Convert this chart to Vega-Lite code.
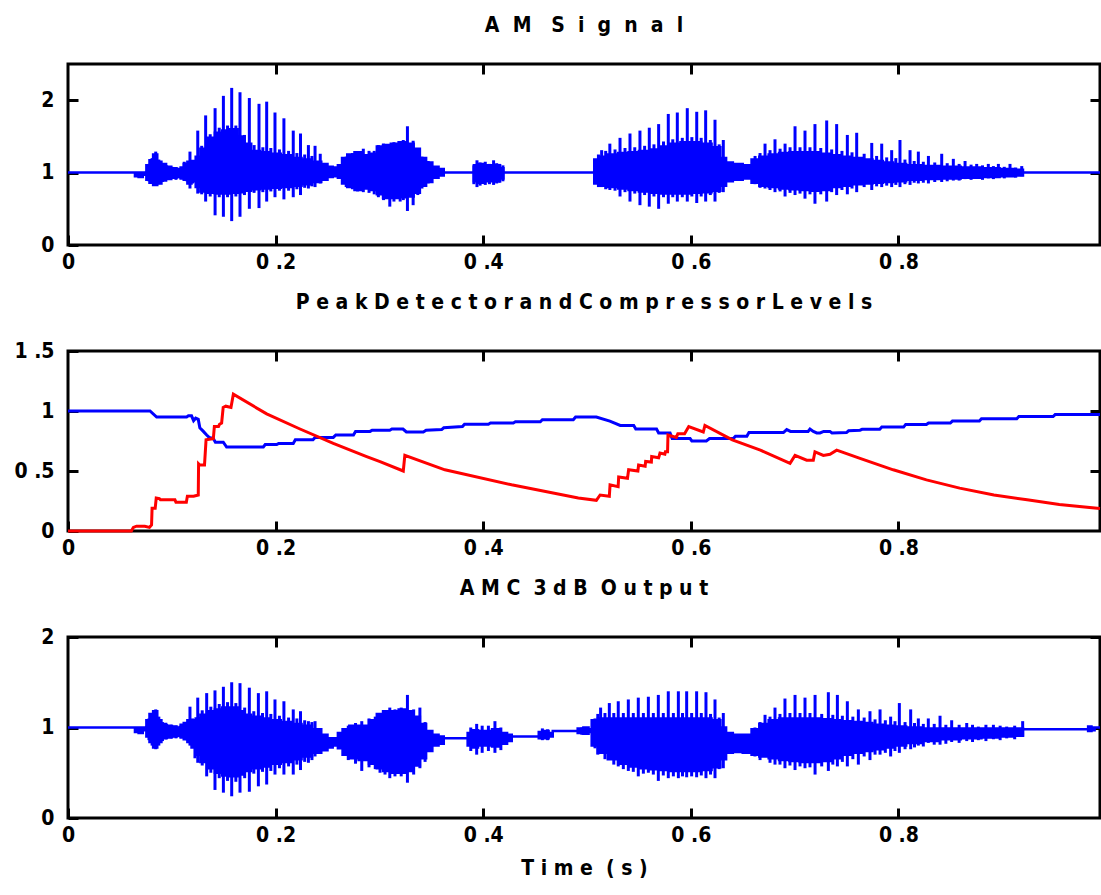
{
 "$schema": "https://vega.github.io/schema/vega-lite/v6.json",
 "background": "white",
 "padding": {"left": 12, "top": 13, "right": 0, "bottom": 5},
 "spacing": 106,
 "bounds": "flush",
 "datasets": {
  "c1": [
   {"t":0,"lo":1,"hi":1},{"t":0.063,"lo":1,"hi":1},{"t":0.066,"lo":0.95,"hi":1},{"t":0.07,"lo":0.94,"hi":1},{"t":0.074,"lo":0.97,"hi":1},
   {"t":0.077,"lo":0.9,"hi":1.1},{"t":0.08,"lo":0.86,"hi":1.17},{"t":0.084,"lo":0.83,"hi":1.25},{"t":0.088,"lo":0.85,"hi":1.15},{"t":0.092,"lo":0.89,"hi":1.12},
   {"t":0.097,"lo":0.91,"hi":1.08},{"t":0.102,"lo":0.93,"hi":1.06},{"t":0.107,"lo":0.94,"hi":1.05},{"t":0.11,"lo":0.92,"hi":1.07},{"t":0.113,"lo":0.9,"hi":1.12},
   {"t":0.117,"lo":0.85,"hi":1.15},{"t":0.121,"lo":0.88,"hi":1.16},{"t":0.125,"lo":0.8,"hi":1.22},{"t":0.13,"lo":0.74,"hi":1.33},{"t":0.138,"lo":0.72,"hi":1.48},
   {"t":0.145,"lo":0.71,"hi":1.55},{"t":0.152,"lo":0.71,"hi":1.58},{"t":0.16,"lo":0.72,"hi":1.6},{"t":0.167,"lo":0.73,"hi":1.5},{"t":0.173,"lo":0.75,"hi":1.4},
   {"t":0.18,"lo":0.77,"hi":1.3},{"t":0.19,"lo":0.78,"hi":1.28},{"t":0.2,"lo":0.79,"hi":1.26},{"t":0.21,"lo":0.8,"hi":1.24},{"t":0.22,"lo":0.82,"hi":1.2},
   {"t":0.23,"lo":0.84,"hi":1.18},{"t":0.24,"lo":0.87,"hi":1.15},{"t":0.248,"lo":0.9,"hi":1.12},{"t":0.252,"lo":0.94,"hi":1.08},{"t":0.258,"lo":0.95,"hi":1.07},
   {"t":0.262,"lo":0.93,"hi":1.1},{"t":0.266,"lo":0.85,"hi":1.2},{"t":0.272,"lo":0.8,"hi":1.25},{"t":0.28,"lo":0.76,"hi":1.28},{"t":0.287,"lo":0.78,"hi":1.24},
   {"t":0.295,"lo":0.76,"hi":1.26},{"t":0.3,"lo":0.7,"hi":1.36},{"t":0.307,"lo":0.65,"hi":1.38},{"t":0.315,"lo":0.65,"hi":1.4},{"t":0.322,"lo":0.66,"hi":1.42},
   {"t":0.33,"lo":0.67,"hi":1.4},{"t":0.336,"lo":0.72,"hi":1.33},{"t":0.342,"lo":0.82,"hi":1.2},{"t":0.348,"lo":0.87,"hi":1.14},{"t":0.354,"lo":0.93,"hi":1.08},
   {"t":0.36,"lo":0.96,"hi":1.05},{"t":0.364,"lo":1,"hi":1},{"t":0.39,"lo":1,"hi":1},{"t":0.392,"lo":0.88,"hi":1.1},{"t":0.398,"lo":0.86,"hi":1.12},
   {"t":0.405,"lo":0.88,"hi":1.1},{"t":0.412,"lo":0.88,"hi":1.1},{"t":0.418,"lo":0.92,"hi":1.06},{"t":0.421,"lo":1,"hi":1},{"t":0.506,"lo":1,"hi":1},
   {"t":0.508,"lo":0.85,"hi":1.18},{"t":0.515,"lo":0.82,"hi":1.22},{"t":0.525,"lo":0.8,"hi":1.25},{"t":0.535,"lo":0.78,"hi":1.27},{"t":0.545,"lo":0.76,"hi":1.28},
   {"t":0.555,"lo":0.74,"hi":1.3},{"t":0.565,"lo":0.72,"hi":1.32},{"t":0.575,"lo":0.71,"hi":1.36},{"t":0.585,"lo":0.71,"hi":1.4},{"t":0.595,"lo":0.71,"hi":1.42},
   {"t":0.605,"lo":0.72,"hi":1.42},{"t":0.615,"lo":0.73,"hi":1.4},{"t":0.625,"lo":0.75,"hi":1.35},{"t":0.632,"lo":0.82,"hi":1.2},{"t":0.636,"lo":0.88,"hi":1.14},
   {"t":0.645,"lo":0.9,"hi":1.12},{"t":0.655,"lo":0.92,"hi":1.1},{"t":0.662,"lo":0.86,"hi":1.18},{"t":0.67,"lo":0.82,"hi":1.22},{"t":0.68,"lo":0.8,"hi":1.25},
   {"t":0.69,"lo":0.78,"hi":1.27},{"t":0.7,"lo":0.77,"hi":1.28},{"t":0.71,"lo":0.76,"hi":1.28},{"t":0.72,"lo":0.75,"hi":1.28},{"t":0.73,"lo":0.76,"hi":1.26},
   {"t":0.74,"lo":0.8,"hi":1.24},{"t":0.75,"lo":0.82,"hi":1.22},{"t":0.76,"lo":0.84,"hi":1.2},{"t":0.77,"lo":0.85,"hi":1.18},{"t":0.78,"lo":0.86,"hi":1.16},
   {"t":0.79,"lo":0.87,"hi":1.14},{"t":0.8,"lo":0.88,"hi":1.12},{"t":0.815,"lo":0.9,"hi":1.1},{"t":0.83,"lo":0.91,"hi":1.09},{"t":0.85,"lo":0.92,"hi":1.08},
   {"t":0.87,"lo":0.93,"hi":1.07},{"t":0.89,"lo":0.94,"hi":1.06},{"t":0.905,"lo":0.95,"hi":1.05},{"t":0.918,"lo":0.96,"hi":1.04},{"t":0.922,"lo":1,"hi":1},
   {"t":0.9942,"lo":1,"hi":1}
  ],
  "s1": [
   {"t":0.078,"lo":0.88,"hi":1.12},{"t":0.081,"lo":0.85,"hi":1.2},{"t":0.0845,"lo":0.83,"hi":1.29},{"t":0.0875,"lo":0.84,"hi":1.18},{"t":0.091,"lo":0.87,"hi":1.13},
   {"t":0.095,"lo":0.9,"hi":1.1},{"t":0.1,"lo":0.92,"hi":1.08},{"t":0.104,"lo":0.9,"hi":1.07},{"t":0.108,"lo":0.92,"hi":1.06},{"t":0.112,"lo":0.9,"hi":1.15},
   {"t":0.1145,"lo":0.88,"hi":1.12},{"t":0.1175,"lo":0.78,"hi":1.29},{"t":0.12,"lo":0.85,"hi":1.17},
   {"t":0.125,"lo":0.71,"hi":1.58},{"t":0.1288,"lo":0.7,"hi":1.37},{"t":0.1326,"lo":0.6,"hi":1.79},{"t":0.137,"lo":0.67,"hi":1.53},{"t":0.1417,"lo":0.41,"hi":1.89},
   {"t":0.1457,"lo":0.66,"hi":1.62},{"t":0.1497,"lo":0.39,"hi":2.06},{"t":0.1537,"lo":0.66,"hi":1.65},{"t":0.1577,"lo":0.33,"hi":2.17},{"t":0.1617,"lo":0.67,"hi":1.65},
   {"t":0.1657,"lo":0.39,"hi":2.11},{"t":0.17,"lo":0.69,"hi":1.52},{"t":0.1747,"lo":0.5,"hi":2.03},{"t":0.1793,"lo":0.72,"hi":1.38},{"t":0.184,"lo":0.51,"hi":1.95},
   {"t":0.1877,"lo":0.73,"hi":1.35},{"t":0.1914,"lo":0.6,"hi":1.98},{"t":0.1954,"lo":0.74,"hi":1.34},{"t":0.1994,"lo":0.66,"hi":1.83},{"t":0.2037,"lo":0.75,"hi":1.32},
   {"t":0.208,"lo":0.63,"hi":1.75},{"t":0.2125,"lo":0.75,"hi":1.3},{"t":0.217,"lo":0.66,"hi":1.58},{"t":0.2205,"lo":0.77,"hi":1.27},{"t":0.224,"lo":0.69,"hi":1.54},
   {"t":0.228,"lo":0.79,"hi":1.25},{"t":0.2316,"lo":0.78,"hi":1.38},{"t":0.235,"lo":0.81,"hi":1.23},{"t":0.238,"lo":0.8,"hi":1.37},{"t":0.243,"lo":0.85,"hi":1.26},
   {"t":0.268,"lo":0.8,"hi":1.22},{"t":0.274,"lo":0.77,"hi":1.27},{"t":0.279,"lo":0.74,"hi":1.25},{"t":0.2845,"lo":0.73,"hi":1.33},{"t":0.29,"lo":0.72,"hi":1.3},
   {"t":0.295,"lo":0.7,"hi":1.3},{"t":0.299,"lo":0.66,"hi":1.38},{"t":0.304,"lo":0.62,"hi":1.4},{"t":0.31,"lo":0.53,"hi":1.38},{"t":0.314,"lo":0.6,"hi":1.42},
   {"t":0.32,"lo":0.6,"hi":1.4},{"t":0.323,"lo":0.62,"hi":1.45},{"t":0.327,"lo":0.47,"hi":1.64},{"t":0.3325,"lo":0.55,"hi":1.44},{"t":0.337,"lo":0.69,"hi":1.31},
   {"t":0.341,"lo":0.78,"hi":1.22},{"t":0.347,"lo":0.85,"hi":1.16},
   {"t":0.391,"lo":0.84,"hi":1.1},{"t":0.394,"lo":0.8,"hi":1.17},{"t":0.397,"lo":0.82,"hi":1.14},{"t":0.402,"lo":0.83,"hi":1.15},{"t":0.406,"lo":0.84,"hi":1.12},
   {"t":0.41,"lo":0.83,"hi":1.17},{"t":0.413,"lo":0.85,"hi":1.13},{"t":0.416,"lo":0.86,"hi":1.12},{"t":0.419,"lo":0.88,"hi":1.1},
   {"t":0.5077,"lo":0.85,"hi":1.18},{"t":0.511,"lo":0.8,"hi":1.25},{"t":0.5141,"lo":0.8,"hi":1.31},{"t":0.518,"lo":0.77,"hi":1.3},{"t":0.522,"lo":0.76,"hi":1.4},
   {"t":0.527,"lo":0.75,"hi":1.32},{"t":0.5318,"lo":0.67,"hi":1.48},{"t":0.5366,"lo":0.73,"hi":1.34},{"t":0.5414,"lo":0.6,"hi":1.54},{"t":0.546,"lo":0.71,"hi":1.35},
   {"t":0.551,"lo":0.55,"hi":1.58},{"t":0.5555,"lo":0.69,"hi":1.37},{"t":0.56,"lo":0.53,"hi":1.62},{"t":0.5645,"lo":0.67,"hi":1.39},{"t":0.569,"lo":0.5,"hi":1.67},
   {"t":0.5737,"lo":0.66,"hi":1.43},{"t":0.5783,"lo":0.57,"hi":1.81},{"t":0.5826,"lo":0.66,"hi":1.46},{"t":0.587,"lo":0.6,"hi":1.83},{"t":0.5918,"lo":0.66,"hi":1.48},
   {"t":0.5966,"lo":0.6,"hi":1.89},{"t":0.601,"lo":0.67,"hi":1.49},{"t":0.6057,"lo":0.58,"hi":1.84},{"t":0.61,"lo":0.67,"hi":1.48},{"t":0.6143,"lo":0.6,"hi":1.86},
   {"t":0.6188,"lo":0.69,"hi":1.45},{"t":0.6233,"lo":0.6,"hi":1.73},{"t":0.6273,"lo":0.72,"hi":1.39},{"t":0.6313,"lo":0.73,"hi":1.45},
   {"t":0.6619,"lo":0.84,"hi":1.23},{"t":0.6667,"lo":0.79,"hi":1.27},{"t":0.6715,"lo":0.78,"hi":1.4},{"t":0.6763,"lo":0.76,"hi":1.31},{"t":0.6811,"lo":0.73,"hi":1.46},
   {"t":0.686,"lo":0.74,"hi":1.33},{"t":0.6908,"lo":0.67,"hi":1.4},{"t":0.6956,"lo":0.72,"hi":1.35},{"t":0.7004,"lo":0.69,"hi":1.64},{"t":0.7052,"lo":0.71,"hi":1.35},
   {"t":0.71,"lo":0.64,"hi":1.58},{"t":0.7148,"lo":0.7,"hi":1.35},{"t":0.7196,"lo":0.57,"hi":1.67},{"t":0.7252,"lo":0.7,"hi":1.34},{"t":0.7309,"lo":0.6,"hi":1.72},
   {"t":0.7357,"lo":0.73,"hi":1.32},{"t":0.7405,"lo":0.69,"hi":1.67},{"t":0.7456,"lo":0.76,"hi":1.3},{"t":0.7508,"lo":0.7,"hi":1.52},{"t":0.7553,"lo":0.78,"hi":1.28},
   {"t":0.7598,"lo":0.73,"hi":1.55},{"t":0.767,"lo":0.8,"hi":1.26},{"t":0.7743,"lo":0.76,"hi":1.41},{"t":0.779,"lo":0.81,"hi":1.23},{"t":0.7839,"lo":0.8,"hi":1.4},
   {"t":0.7887,"lo":0.82,"hi":1.21},{"t":0.7935,"lo":0.8,"hi":1.31},{"t":0.7975,"lo":0.83,"hi":1.2},{"t":0.8015,"lo":0.8,"hi":1.45},{"t":0.8063,"lo":0.84,"hi":1.18},
   {"t":0.8112,"lo":0.83,"hi":1.31},{"t":0.8152,"lo":0.86,"hi":1.16},{"t":0.8192,"lo":0.85,"hi":1.29},{"t":0.824,"lo":0.86,"hi":1.15},{"t":0.8289,"lo":0.85,"hi":1.23},
   {"t":0.835,"lo":0.87,"hi":1.14},{"t":0.8417,"lo":0.87,"hi":1.26},{"t":0.847,"lo":0.88,"hi":1.13},{"t":0.8529,"lo":0.89,"hi":1.19},{"t":0.8585,"lo":0.89,"hi":1.12},
   {"t":0.8642,"lo":0.91,"hi":1.16},{"t":0.87,"lo":0.9,"hi":1.11},{"t":0.8754,"lo":0.92,"hi":1.12},{"t":0.881,"lo":0.9,"hi":1.1},{"t":0.8866,"lo":0.92,"hi":1.12},
   {"t":0.8915,"lo":0.91,"hi":1.09},{"t":0.8963,"lo":0.93,"hi":1.12},{"t":0.902,"lo":0.92,"hi":1.08},{"t":0.9075,"lo":0.94,"hi":1.12},{"t":0.913,"lo":0.93,"hi":1.07},
   {"t":0.9188,"lo":0.95,"hi":1.09}
  ],
  "c3": [
   {"t":0,"lo":1,"hi":1},{"t":0.063,"lo":1,"hi":1},{"t":0.066,"lo":0.95,"hi":1},{"t":0.07,"lo":0.94,"hi":1},{"t":0.074,"lo":0.97,"hi":1},
   {"t":0.077,"lo":0.9,"hi":1.08},{"t":0.08,"lo":0.84,"hi":1.15},{"t":0.084,"lo":0.78,"hi":1.18},{"t":0.088,"lo":0.84,"hi":1.08},{"t":0.092,"lo":0.88,"hi":1.04},
   {"t":0.097,"lo":0.89,"hi":1.02},{"t":0.102,"lo":0.9,"hi":1.01},{"t":0.107,"lo":0.91,"hi":1},{"t":0.11,"lo":0.89,"hi":1.03},{"t":0.113,"lo":0.87,"hi":1.05},
   {"t":0.117,"lo":0.84,"hi":1.08},{"t":0.121,"lo":0.78,"hi":1.08},{"t":0.125,"lo":0.7,"hi":1.1},{"t":0.13,"lo":0.62,"hi":1.14},{"t":0.138,"lo":0.55,"hi":1.18},
   {"t":0.145,"lo":0.5,"hi":1.2},{"t":0.152,"lo":0.47,"hi":1.22},{"t":0.16,"lo":0.46,"hi":1.22},{"t":0.167,"lo":0.48,"hi":1.18},{"t":0.173,"lo":0.52,"hi":1.14},
   {"t":0.18,"lo":0.55,"hi":1.12},{"t":0.19,"lo":0.57,"hi":1.1},{"t":0.2,"lo":0.6,"hi":1.08},{"t":0.21,"lo":0.62,"hi":1.06},{"t":0.22,"lo":0.65,"hi":1.04},
   {"t":0.23,"lo":0.68,"hi":1.02},{"t":0.24,"lo":0.72,"hi":0.98},{"t":0.248,"lo":0.75,"hi":0.92},{"t":0.252,"lo":0.78,"hi":0.88},{"t":0.258,"lo":0.8,"hi":0.88},
   {"t":0.262,"lo":0.77,"hi":0.94},{"t":0.267,"lo":0.7,"hi":0.98},{"t":0.275,"lo":0.66,"hi":1.02},{"t":0.285,"lo":0.64,"hi":1.02},{"t":0.295,"lo":0.6,"hi":1.08},
   {"t":0.3,"lo":0.55,"hi":1.15},{"t":0.307,"lo":0.52,"hi":1.18},{"t":0.315,"lo":0.5,"hi":1.18},{"t":0.322,"lo":0.5,"hi":1.2},{"t":0.33,"lo":0.52,"hi":1.18},
   {"t":0.336,"lo":0.58,"hi":1.12},{"t":0.342,"lo":0.66,"hi":1.04},{"t":0.348,"lo":0.74,"hi":0.96},{"t":0.354,"lo":0.8,"hi":0.92},{"t":0.36,"lo":0.82,"hi":0.9},
   {"t":0.364,"lo":0.88,"hi":0.88},{"t":0.384,"lo":0.88,"hi":0.88},{"t":0.386,"lo":0.8,"hi":0.94},{"t":0.392,"lo":0.78,"hi":0.97},{"t":0.398,"lo":0.8,"hi":0.96},
   {"t":0.405,"lo":0.8,"hi":0.96},{"t":0.412,"lo":0.79,"hi":0.98},{"t":0.42,"lo":0.82,"hi":0.94},{"t":0.426,"lo":0.85,"hi":0.92},{"t":0.429,"lo":0.9,"hi":0.9},
   {"t":0.452,"lo":0.9,"hi":0.9},{"t":0.455,"lo":0.88,"hi":0.95},{"t":0.46,"lo":0.88,"hi":0.96},{"t":0.466,"lo":0.9,"hi":0.94},{"t":0.468,"lo":0.96,"hi":0.96},
   {"t":0.489,"lo":0.96,"hi":0.96},{"t":0.493,"lo":0.94,"hi":0.99},{"t":0.5,"lo":0.93,"hi":1},{"t":0.503,"lo":0.95,"hi":0.98},{"t":0.506,"lo":0.8,"hi":1.08},
   {"t":0.515,"lo":0.72,"hi":1.1},{"t":0.525,"lo":0.65,"hi":1.1},{"t":0.535,"lo":0.6,"hi":1.1},{"t":0.545,"lo":0.57,"hi":1.1},{"t":0.555,"lo":0.55,"hi":1.1},
   {"t":0.565,"lo":0.54,"hi":1.1},{"t":0.575,"lo":0.53,"hi":1.1},{"t":0.585,"lo":0.52,"hi":1.1},{"t":0.595,"lo":0.52,"hi":1.1},{"t":0.605,"lo":0.52,"hi":1.1},
   {"t":0.615,"lo":0.53,"hi":1.1},{"t":0.625,"lo":0.56,"hi":1.08},{"t":0.632,"lo":0.65,"hi":1},{"t":0.636,"lo":0.72,"hi":0.94},{"t":0.645,"lo":0.73,"hi":0.92},
   {"t":0.655,"lo":0.72,"hi":0.92},{"t":0.662,"lo":0.7,"hi":0.98},{"t":0.67,"lo":0.68,"hi":1.04},{"t":0.68,"lo":0.66,"hi":1.08},{"t":0.69,"lo":0.64,"hi":1.1},
   {"t":0.7,"lo":0.63,"hi":1.1},{"t":0.71,"lo":0.62,"hi":1.1},{"t":0.72,"lo":0.62,"hi":1.1},{"t":0.73,"lo":0.63,"hi":1.09},{"t":0.74,"lo":0.66,"hi":1.08},
   {"t":0.75,"lo":0.7,"hi":1.07},{"t":0.76,"lo":0.72,"hi":1.06},{"t":0.77,"lo":0.74,"hi":1.05},{"t":0.78,"lo":0.76,"hi":1.03},{"t":0.79,"lo":0.78,"hi":1.02},
   {"t":0.8,"lo":0.8,"hi":1.01},{"t":0.815,"lo":0.83,"hi":1},{"t":0.83,"lo":0.85,"hi":0.99},{"t":0.85,"lo":0.87,"hi":0.99},{"t":0.87,"lo":0.88,"hi":0.99},
   {"t":0.89,"lo":0.89,"hi":0.99},{"t":0.905,"lo":0.9,"hi":0.99},{"t":0.918,"lo":0.91,"hi":0.99},{"t":0.922,"lo":0.98,"hi":0.98},{"t":0.9815,"lo":0.98,"hi":0.98},
   {"t":0.984,"lo":0.96,"hi":1.01},{"t":0.988,"lo":0.97,"hi":1.0},{"t":0.99,"lo":1,"hi":1},{"t":0.9942,"lo":1,"hi":1}
  ],
  "s3": [
   {"t":0.078,"lo":0.86,"hi":1.1},{"t":0.081,"lo":0.8,"hi":1.16},{"t":0.0845,"lo":0.76,"hi":1.2},{"t":0.0875,"lo":0.8,"hi":1.12},{"t":0.091,"lo":0.85,"hi":1.06},
   {"t":0.095,"lo":0.87,"hi":1.04},{"t":0.1,"lo":0.88,"hi":1.03},{"t":0.104,"lo":0.88,"hi":1.02},{"t":0.108,"lo":0.89,"hi":1.02},{"t":0.1145,"lo":0.86,"hi":1.06},
   {"t":0.1175,"lo":0.8,"hi":1.23},{"t":0.12,"lo":0.8,"hi":1.1},{"t":0.1223,"lo":0.66,"hi":1.0},
   {"t":0.125,"lo":0.61,"hi":1.33},{"t":0.1293,"lo":0.58,"hi":1.19},{"t":0.1336,"lo":0.46,"hi":1.38},{"t":0.1376,"lo":0.5,"hi":1.23},{"t":0.1416,"lo":0.31,"hi":1.41},
   {"t":0.1457,"lo":0.44,"hi":1.26},{"t":0.1497,"lo":0.28,"hi":1.45},{"t":0.1537,"lo":0.41,"hi":1.28},{"t":0.1577,"lo":0.24,"hi":1.5},{"t":0.1617,"lo":0.4,"hi":1.27},
   {"t":0.1657,"lo":0.28,"hi":1.49},{"t":0.1702,"lo":0.44,"hi":1.22},{"t":0.1747,"lo":0.29,"hi":1.44},{"t":0.179,"lo":0.49,"hi":1.18},{"t":0.1834,"lo":0.35,"hi":1.38},
   {"t":0.1874,"lo":0.51,"hi":1.16},{"t":0.1914,"lo":0.37,"hi":1.4},{"t":0.1954,"lo":0.52,"hi":1.15},{"t":0.1994,"lo":0.48,"hi":1.31},{"t":0.2037,"lo":0.55,"hi":1.13},
   {"t":0.208,"lo":0.48,"hi":1.29},{"t":0.2125,"lo":0.57,"hi":1.11},{"t":0.217,"lo":0.48,"hi":1.2},{"t":0.2205,"lo":0.59,"hi":1.1},{"t":0.224,"lo":0.53,"hi":1.18},
   {"t":0.228,"lo":0.62,"hi":1.08},{"t":0.2316,"lo":0.61,"hi":1.07},{"t":0.235,"lo":0.64,"hi":1.06},{"t":0.238,"lo":0.68,"hi":1.07},
   {"t":0.27,"lo":0.64,"hi":1.02},{"t":0.277,"lo":0.6,"hi":1.05},{"t":0.283,"lo":0.52,"hi":1.07},{"t":0.29,"lo":0.56,"hi":1.1},{"t":0.296,"lo":0.54,"hi":1.12},
   {"t":0.3006,"lo":0.5,"hi":1.14},{"t":0.3054,"lo":0.48,"hi":1.18},{"t":0.31,"lo":0.44,"hi":1.22},{"t":0.315,"lo":0.46,"hi":1.2},{"t":0.321,"lo":0.46,"hi":1.22},
   {"t":0.327,"lo":0.39,"hi":1.36},{"t":0.333,"lo":0.48,"hi":1.2},{"t":0.339,"lo":0.55,"hi":1.22},{"t":0.344,"lo":0.62,"hi":1.06},
   {"t":0.388,"lo":0.74,"hi":1.0},{"t":0.3937,"lo":0.7,"hi":1.04},{"t":0.399,"lo":0.72,"hi":1.02},{"t":0.405,"lo":0.74,"hi":1.02},{"t":0.4113,"lo":0.72,"hi":1.07},
   {"t":0.417,"lo":0.75,"hi":1.0},{"t":0.457,"lo":0.86,"hi":0.99},{"t":0.462,"lo":0.86,"hi":0.98},{"t":0.495,"lo":0.92,"hi":1.0},
   {"t":0.5077,"lo":0.77,"hi":1.1},{"t":0.5104,"lo":0.7,"hi":1.15},{"t":0.5131,"lo":0.77,"hi":1.22},{"t":0.5173,"lo":0.65,"hi":1.16},{"t":0.5215,"lo":0.68,"hi":1.27},
   {"t":0.5258,"lo":0.59,"hi":1.16},{"t":0.5301,"lo":0.57,"hi":1.29},{"t":0.535,"lo":0.54,"hi":1.16},{"t":0.5398,"lo":0.52,"hi":1.31},{"t":0.5446,"lo":0.51,"hi":1.16},
   {"t":0.5494,"lo":0.46,"hi":1.33},{"t":0.5543,"lo":0.49,"hi":1.16},{"t":0.5591,"lo":0.5,"hi":1.34},{"t":0.5639,"lo":0.48,"hi":1.16},{"t":0.5687,"lo":0.41,"hi":1.36},
   {"t":0.5735,"lo":0.47,"hi":1.16},{"t":0.5783,"lo":0.44,"hi":1.4},{"t":0.5832,"lo":0.46,"hi":1.16},{"t":0.588,"lo":0.44,"hi":1.4},{"t":0.592,"lo":0.46,"hi":1.16},
   {"t":0.596,"lo":0.45,"hi":1.4},{"t":0.6008,"lo":0.46,"hi":1.16},{"t":0.6056,"lo":0.45,"hi":1.4},{"t":0.6101,"lo":0.47,"hi":1.16},{"t":0.6146,"lo":0.44,"hi":1.39},
   {"t":0.619,"lo":0.48,"hi":1.15},{"t":0.6233,"lo":0.44,"hi":1.31},{"t":0.6273,"lo":0.54,"hi":1.11},{"t":0.6313,"lo":0.55,"hi":1.16},
   {"t":0.6618,"lo":0.68,"hi":1.0},{"t":0.6667,"lo":0.64,"hi":1.06},{"t":0.6715,"lo":0.68,"hi":1.14},{"t":0.6763,"lo":0.61,"hi":1.12},{"t":0.6811,"lo":0.59,"hi":1.22},
   {"t":0.6859,"lo":0.59,"hi":1.15},{"t":0.6907,"lo":0.55,"hi":1.32},{"t":0.6955,"lo":0.58,"hi":1.16},{"t":0.7004,"lo":0.53,"hi":1.36},{"t":0.7052,"lo":0.57,"hi":1.16},
   {"t":0.71,"lo":0.55,"hi":1.33},{"t":0.7148,"lo":0.56,"hi":1.16},{"t":0.7197,"lo":0.48,"hi":1.36},{"t":0.7261,"lo":0.57,"hi":1.15},{"t":0.7325,"lo":0.52,"hi":1.39},
   {"t":0.7368,"lo":0.59,"hi":1.14},{"t":0.7412,"lo":0.57,"hi":1.36},{"t":0.746,"lo":0.62,"hi":1.13},{"t":0.7508,"lo":0.57,"hi":1.29},{"t":0.7561,"lo":0.65,"hi":1.12},
   {"t":0.7614,"lo":0.59,"hi":1.2},{"t":0.767,"lo":0.68,"hi":1.11},{"t":0.7726,"lo":0.64,"hi":1.18},{"t":0.7775,"lo":0.7,"hi":1.09},{"t":0.7823,"lo":0.7,"hi":1.2},
   {"t":0.7874,"lo":0.72,"hi":1.08},{"t":0.7925,"lo":0.68,"hi":1.12},{"t":0.7967,"lo":0.74,"hi":1.07},{"t":0.8009,"lo":0.72,"hi":1.27},{"t":0.8064,"lo":0.76,"hi":1.06},
   {"t":0.8118,"lo":0.76,"hi":1.2},{"t":0.8155,"lo":0.78,"hi":1.05},{"t":0.8192,"lo":0.8,"hi":1.1},{"t":0.824,"lo":0.79,"hi":1.04},{"t":0.8288,"lo":0.83,"hi":1.1},
   {"t":0.8345,"lo":0.81,"hi":1.04},{"t":0.8401,"lo":0.81,"hi":1.13},{"t":0.8457,"lo":0.82,"hi":1.03},{"t":0.8513,"lo":0.84,"hi":1.08},{"t":0.8585,"lo":0.83,"hi":1.03},
   {"t":0.8658,"lo":0.85,"hi":1.05},{"t":0.8714,"lo":0.84,"hi":1.03},{"t":0.877,"lo":0.86,"hi":1.01},{"t":0.8843,"lo":0.85,"hi":1.03},{"t":0.8915,"lo":0.87,"hi":1.03},
   {"t":0.898,"lo":0.86,"hi":1.02},{"t":0.9043,"lo":0.88,"hi":1.01},{"t":0.912,"lo":0.87,"hi":1.02},{"t":0.9197,"lo":0.9,"hi":1.07}
  ],
  "b2": [
   {"t":0,"v":1},{"t":0.079,"v":1},{"t":0.0854,"v":0.95},{"t":0.1143,"v":0.95},{"t":0.116,"v":0.96},{"t":0.119,"v":0.96},{"t":0.121,"v":0.92},{"t":0.123,"v":0.94},
   {"t":0.1255,"v":0.93},{"t":0.127,"v":0.86},{"t":0.1304,"v":0.83},{"t":0.1336,"v":0.8},{"t":0.136,"v":0.78},{"t":0.14,"v":0.77},{"t":0.142,"v":0.74},{"t":0.1496,"v":0.74},
   {"t":0.1528,"v":0.7},{"t":0.1882,"v":0.7},{"t":0.19,"v":0.72},{"t":0.201,"v":0.72},{"t":0.203,"v":0.73},{"t":0.217,"v":0.73},{"t":0.219,"v":0.76},{"t":0.236,"v":0.76},
   {"t":0.238,"v":0.78},{"t":0.2556,"v":0.78},{"t":0.258,"v":0.8},{"t":0.275,"v":0.8},{"t":0.277,"v":0.83},{"t":0.291,"v":0.83},{"t":0.293,"v":0.84},{"t":0.31,"v":0.84},
   {"t":0.312,"v":0.85},{"t":0.3227,"v":0.85},{"t":0.326,"v":0.825},{"t":0.3423,"v":0.825},{"t":0.345,"v":0.84},{"t":0.36,"v":0.845},{"t":0.362,"v":0.86},{"t":0.38,"v":0.87},
   {"t":0.382,"v":0.89},{"t":0.405,"v":0.89},{"t":0.407,"v":0.9},{"t":0.429,"v":0.9},{"t":0.431,"v":0.91},{"t":0.455,"v":0.91},{"t":0.457,"v":0.927},{"t":0.4868,"v":0.927},
   {"t":0.489,"v":0.95},{"t":0.509,"v":0.95},{"t":0.522,"v":0.916},{"t":0.532,"v":0.88},{"t":0.545,"v":0.88},{"t":0.547,"v":0.85},{"t":0.567,"v":0.85},{"t":0.569,"v":0.817},
   {"t":0.58,"v":0.817},{"t":0.582,"v":0.77},{"t":0.5993,"v":0.77},{"t":0.601,"v":0.75},{"t":0.615,"v":0.75},{"t":0.618,"v":0.77},{"t":0.641,"v":0.77},{"t":0.643,"v":0.79},
   {"t":0.654,"v":0.79},{"t":0.656,"v":0.82},{"t":0.6892,"v":0.82},{"t":0.6924,"v":0.845},{"t":0.696,"v":0.83},{"t":0.713,"v":0.83},{"t":0.7148,"v":0.85},{"t":0.718,"v":0.83},
   {"t":0.7213,"v":0.817},{"t":0.7245,"v":0.817},{"t":0.728,"v":0.83},{"t":0.734,"v":0.83},{"t":0.736,"v":0.817},{"t":0.75,"v":0.82},{"t":0.752,"v":0.835},{"t":0.763,"v":0.84},
   {"t":0.765,"v":0.847},{"t":0.782,"v":0.847},{"t":0.784,"v":0.866},{"t":0.805,"v":0.866},{"t":0.807,"v":0.888},{"t":0.827,"v":0.888},{"t":0.829,"v":0.9},{"t":0.85,"v":0.9},
   {"t":0.852,"v":0.916},{"t":0.878,"v":0.916},{"t":0.88,"v":0.935},{"t":0.914,"v":0.935},{"t":0.916,"v":0.954},{"t":0.949,"v":0.954},{"t":0.951,"v":0.97},{"t":0.9942,"v":0.97}
  ],
  "r2": [
   {"t":0,"v":0},{"t":0.061,"v":0},{"t":0.063,"v":0.03},{"t":0.066,"v":0.04},{"t":0.074,"v":0.04},{"t":0.0785,"v":0.03},{"t":0.0805,"v":0.05},{"t":0.081,"v":0.19},
   {"t":0.084,"v":0.19},{"t":0.085,"v":0.275},{"t":0.088,"v":0.27},{"t":0.089,"v":0.26},{"t":0.103,"v":0.26},{"t":0.104,"v":0.24},{"t":0.114,"v":0.24},{"t":0.115,"v":0.29},
   {"t":0.121,"v":0.29},{"t":0.1255,"v":0.3},{"t":0.1258,"v":0.56},{"t":0.127,"v":0.55},{"t":0.1315,"v":0.55},{"t":0.133,"v":0.76},{"t":0.14,"v":0.77},{"t":0.141,"v":0.87},
   {"t":0.145,"v":0.87},{"t":0.146,"v":0.89},{"t":0.148,"v":0.9},{"t":0.1495,"v":1.03},{"t":0.152,"v":1.04},{"t":0.157,"v":1.03},{"t":0.1593,"v":1.14},{"t":0.1914,"v":0.976},
   {"t":0.2235,"v":0.85},{"t":0.2556,"v":0.73},{"t":0.2877,"v":0.62},{"t":0.3006,"v":0.578},{"t":0.323,"v":0.5},{"t":0.3245,"v":0.63},{"t":0.3631,"v":0.51},{"t":0.4273,"v":0.385},
   {"t":0.4916,"v":0.275},{"t":0.509,"v":0.256},{"t":0.5126,"v":0.3},{"t":0.5215,"v":0.29},{"t":0.5222,"v":0.385},{"t":0.53,"v":0.37},{"t":0.5305,"v":0.45},{"t":0.539,"v":0.44},
   {"t":0.5401,"v":0.51},{"t":0.549,"v":0.5},{"t":0.5497,"v":0.55},{"t":0.556,"v":0.54},{"t":0.5565,"v":0.58},{"t":0.562,"v":0.575},{"t":0.5623,"v":0.62},{"t":0.569,"v":0.61},
   {"t":0.5703,"v":0.65},{"t":0.575,"v":0.64},{"t":0.5755,"v":0.66},{"t":0.5776,"v":0.66},{"t":0.578,"v":0.8},{"t":0.586,"v":0.78},{"t":0.5875,"v":0.81},{"t":0.594,"v":0.81},
   {"t":0.598,"v":0.87},{"t":0.612,"v":0.825},{"t":0.6136,"v":0.88},{"t":0.64,"v":0.76},{"t":0.667,"v":0.674},{"t":0.6956,"v":0.564},{"t":0.7004,"v":0.63},{"t":0.7116,"v":0.59},
   {"t":0.718,"v":0.59},{"t":0.7196,"v":0.66},{"t":0.7277,"v":0.63},{"t":0.7341,"v":0.64},{"t":0.7405,"v":0.674},{"t":0.763,"v":0.605},{"t":0.795,"v":0.51},{"t":0.827,"v":0.426},
   {"t":0.859,"v":0.357},{"t":0.892,"v":0.3},{"t":0.924,"v":0.26},{"t":0.955,"v":0.22},{"t":0.9942,"v":0.187}
  ]
 },
 "vconcat": [
  {
   "width": 1032, "height": 181,
   "title": {"text": "A\u00a0 M\u00a0\u00a0 S\u00a0 i\u00a0 g\u00a0 n\u00a0 a\u00a0 l"},
   "layer": [
    {"data": {"name": "c1"},
     "mark": {"type": "area", "color": "#0000ff", "stroke": "#0000ff", "strokeWidth": 2.5, "interpolate": "step"},
     "encoding": {
      "x": {"field": "t", "type": "quantitative", "scale": {"domain": [0, 0.9942], "nice": false, "zero": false}, "axis": {"values": [0, 0.2, 0.4, 0.6, 0.8], "labelExpr": "datum.value == 0 ? '0' : '0 .' + round(datum.value*10)", "title": null}},
      "y": {"field": "lo", "type": "quantitative", "scale": {"domain": [0, 2.5], "nice": false}, "axis": {"values": [0, 1, 2], "labelExpr": "'' + datum.value", "title": null}},
      "y2": {"field": "hi"}
     }},
    {"data": {"name": "s1"},
     "mark": {"type": "rule", "color": "#0000ff", "strokeWidth": 3},
     "encoding": {
      "x": {"field": "t", "type": "quantitative", "axis": {"orient": "top", "values": [0.2, 0.4, 0.6, 0.8], "labels": false, "title": null}},
      "y": {"field": "lo", "type": "quantitative", "axis": {"orient": "right", "values": [1, 2], "labels": false, "title": null}},
      "y2": {"field": "hi"}
     }}
   ],
   "resolve": {"axis": {"x": "independent", "y": "independent"}}
  },
  {
   "width": 1032, "height": 180,
   "title": {"text": "P e a k D e t e c t o r a n d C o m p r e s s o r L e v e l s"},
   "layer": [
    {"data": {"name": "b2"},
     "mark": {"type": "line", "color": "#0000ff", "strokeWidth": 3},
     "encoding": {
      "x": {"field": "t", "type": "quantitative", "scale": {"domain": [0, 0.9942], "nice": false, "zero": false}, "axis": {"values": [0, 0.2, 0.4, 0.6, 0.8], "labelExpr": "datum.value == 0 ? '0' : '0 .' + round(datum.value*10)", "title": null}},
      "y": {"field": "v", "type": "quantitative", "scale": {"domain": [0, 1.5], "nice": false}, "axis": {"values": [0, 0.5, 1, 1.5], "labelExpr": "datum.value == 1.5 ? '1 .5' : datum.value == 0.5 ? '0 .5' : '' + datum.value", "title": null}}
     }},
    {"data": {"name": "r2"},
     "mark": {"type": "line", "color": "#ff0000", "strokeWidth": 3},
     "encoding": {
      "x": {"field": "t", "type": "quantitative", "axis": {"orient": "top", "values": [0.2, 0.4, 0.6, 0.8], "labels": false, "title": null}},
      "y": {"field": "v", "type": "quantitative", "axis": {"orient": "right", "values": [0.5, 1], "labels": false, "title": null}}
     }}
   ],
   "resolve": {"axis": {"x": "independent", "y": "independent"}}
  },
  {
   "width": 1032, "height": 181,
   "title": {"text": "A M C\u00a0 3 d B\u00a0 O u t p u t"},
   "layer": [
    {"data": {"name": "c3"},
     "mark": {"type": "area", "color": "#0000ff", "stroke": "#0000ff", "strokeWidth": 2.5, "interpolate": "step"},
     "encoding": {
      "x": {"field": "t", "type": "quantitative", "scale": {"domain": [0, 0.9942], "nice": false, "zero": false}, "axis": {"values": [0, 0.2, 0.4, 0.6, 0.8], "labelExpr": "datum.value == 0 ? '0' : '0 .' + round(datum.value*10)", "title": "T i m e\u00a0 ( s )"}},
      "y": {"field": "lo", "type": "quantitative", "scale": {"domain": [0, 2], "nice": false}, "axis": {"values": [0, 1, 2], "labelExpr": "'' + datum.value", "title": null}},
      "y2": {"field": "hi"}
     }},
    {"data": {"name": "s3"},
     "mark": {"type": "rule", "color": "#0000ff", "strokeWidth": 3},
     "encoding": {
      "x": {"field": "t", "type": "quantitative", "axis": {"orient": "top", "values": [0.2, 0.4, 0.6, 0.8], "labels": false, "title": null}},
      "y": {"field": "lo", "type": "quantitative", "axis": {"orient": "right", "values": [1, 2], "labels": false, "title": null}},
      "y2": {"field": "hi"}
     }}
   ],
   "resolve": {"axis": {"x": "independent", "y": "independent"}}
  }
 ],
 "config": {
  "view": {"stroke": "black", "strokeWidth": 3},
  "axis": {
   "grid": false, "domain": false, "ticks": true, "tickColor": "black", "tickWidth": 3, "tickSize": -10,
   "labelFont": "Liberation Sans Narrow, DejaVu Sans Condensed, sans-serif", "labelFontSize": 21, "labelFontWeight": "bold", "labelColor": "black",
   "labelPadding": 24, "labelFlush": false,
   "titleFont": "Liberation Sans Narrow, DejaVu Sans Condensed, sans-serif", "titleFontSize": 21, "titleFontWeight": "bold", "titleColor": "black", "titlePadding": 12
  },
  "axisX": {"labelPadding": 16},
  "title": {"font": "Liberation Sans Narrow, DejaVu Sans Condensed, sans-serif", "fontSize": 21, "fontWeight": "bold", "color": "black", "offset": 27, "anchor": "middle"}
 }
}
